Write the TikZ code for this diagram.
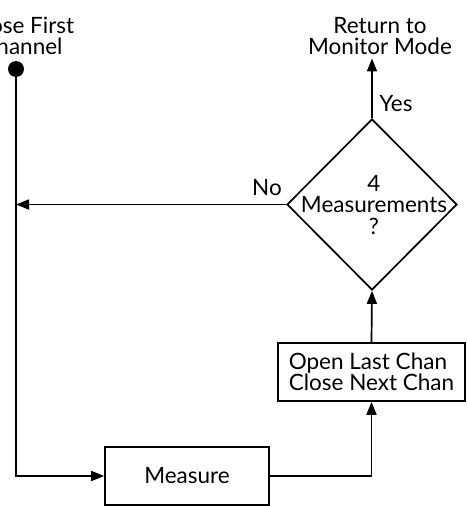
\documentclass[tikz,border=0pt]{standalone}
\usepackage{fontspec}
\setmainfont{Lato}
\usetikzlibrary{arrows.meta,shapes.geometric}
\begin{document}
\begin{tikzpicture}[x=1pt,y=-1pt,
  every node/.style={font=\fontsize{22.5}{21.5}\selectfont},
  box/.style={draw,line width=1.7pt,inner sep=0pt},
  flow/.style={line width=1.7pt,-{Triangle[length=13pt,width=10pt]}}]
\useasboundingbox (0,0) rectangle (466,506);
\node[circle,fill,inner sep=0pt,minimum size=16pt] (start) at (16,69) {};
\node[align=center] (startlbl) at (22,36) {Close First\\Channel};
\node[box,minimum width=164pt,minimum height=58pt] (measure) at (187,476) {Measure};
\node[box,minimum width=187pt,minimum height=58pt,align=left] (open) at (371.5,372) {Open Last Chan\\Close Next Chan};
\node[diamond,draw,line width=1.7pt,inner sep=0pt,minimum width=170pt,minimum height=171pt] (dec) at (372,204.5) {};
\node[align=center] (dectext) at (374,205) {4\\Measurements\\?};
\node[align=center] (ret) at (380,36) {Return to\\Monitor Mode};
\node (yes) at (396,104) {Yes};
\node (no) at (267,188) {No};
\draw[flow] (start.center) |- (measure.west);
\draw[flow] (measure.east) -| (open.south);
\draw[flow] (open.north) -- (dec.south);
\draw[flow] (dec.north) -- (dec.north |- ret.south);
\draw[flow] (dec.west) -- (dec.west -| start);
\end{tikzpicture}
\end{document}
